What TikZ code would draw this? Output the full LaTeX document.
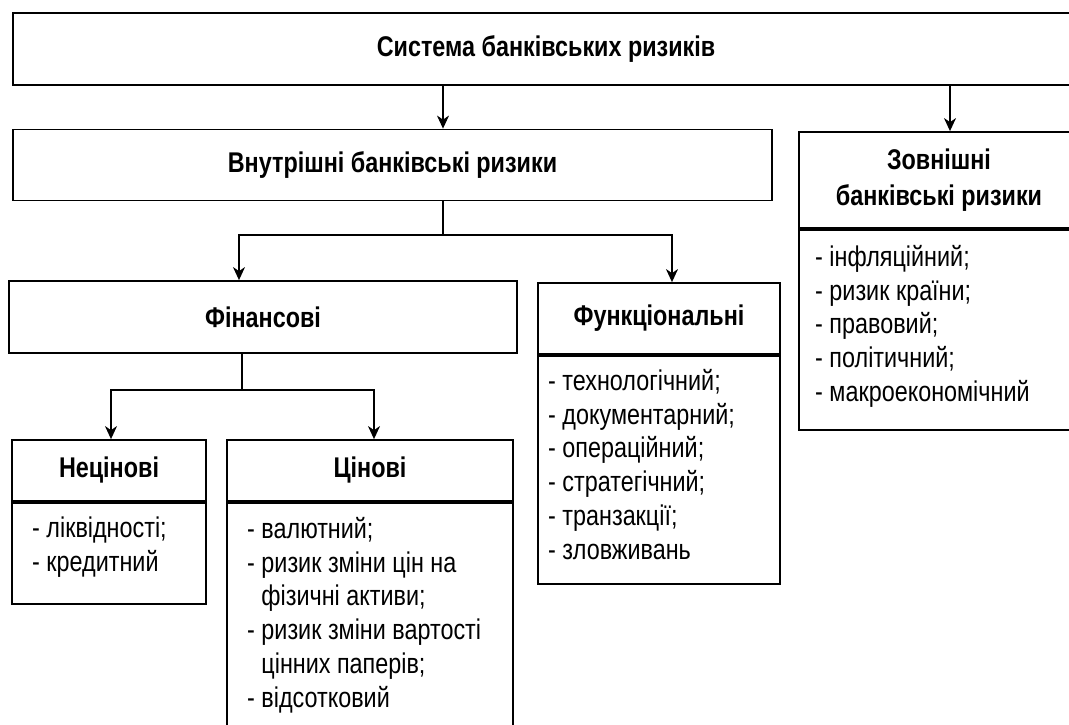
\documentclass[tikz,border=0pt]{standalone}
\usepackage{fontspec}
\setmainfont{Liberation Sans}[FakeStretch=0.82]
\usetikzlibrary{arrows.meta}
\tikzset{
  head/.style={draw, line width=1.8pt, font=\bfseries, align=center, inner sep=0pt},
  listbox/.style={draw, line width=1.8pt, anchor=north west, inner sep=0pt},
  items/.style={anchor=north west, align=left, inner sep=0pt},
  arr/.style={line width=1.2pt, -{Stealth[length=13pt,width=12pt,inset=4pt]}},
  link/.style={line width=1.2pt}
}
\newcommand{\topline}{\rule{0pt}{24pt}}
\begin{document}
\fontsize{28.5pt}{33.8pt}\selectfont
\begin{tikzpicture}[x=1pt, y=-1pt]
      \useasboundingbox (0,0) rectangle (1069,725);
      \clip (0,0) rectangle (1069,725);
      \fill[white] (0,0) rectangle (1069,725);
      \node[head, minimum width=1066pt, minimum height=72pt] (sys) at (546,49) {Система банківських ризиків};
      \node[head, minimum width=759pt, minimum height=71pt] (vnut) at (392.5,165) {Внутрішні банківські ризики};
      \node[head, minimum width=280pt, minimum height=96pt, font=\bfseries\fontsize{28.5pt}{36pt}\selectfont] (zovn) at (939,180) {Зовнішні\\банківські ризики};
      \node[listbox, minimum width=280pt, minimum height=200pt] (zovnl) at (zovn.south west) {};
      \node[items] (zovnt) at (815,242) {\topline- інфляційний;\\- ризик країни;\\- правовий;\\- політичний;\\- макроекономічний};
      \node[head, minimum width=508pt, minimum height=72pt] (fin) at (263,317) {Фінансові};
      \node[head, minimum width=242pt, minimum height=71pt] (func) at (659,318.5) {Функціональні};
      \node[listbox, minimum width=242pt, minimum height=228pt] (funcl) at (func.south west) {};
      \node[items] (funct) at (548,366) {\topline- технологічний;\\- документарний;\\- операційний;\\- стратегічний;\\- транзакції;\\- зловживань};
      \node[head, minimum width=194pt, minimum height=61pt] (neciny) at (109,470.5) {Нецінові};
      \node[listbox, minimum width=194pt, minimum height=101pt] (necinyl) at (neciny.south west) {};
      \node[items] (necinyt) at (32,513) {\topline- ліквідності;\\- кредитний};
      \node[head, minimum width=286pt, minimum height=61pt] (ciny) at (370,470.5) {Цінові};
      \node[listbox, minimum width=286pt, minimum height=260pt] (cinyl) at (ciny.south west) {};
      \node[items] (cinyt) at (247,514) {\topline- валютний;\\- ризик зміни цін на\\\phantom{- }фізичні активи;\\- ризик зміни вартості\\\phantom{- }цінних паперів;\\- відсотковий};
      \coordinate (b1) at (443,110);
      \coordinate (b2) at (950,110);
      \coordinate (j1) at (443,235);
      \coordinate (j2) at (242,390);
      \draw[arr] (sys.south -| b1) -- (vnut.north -| b1);
      \draw[arr] (sys.south -| b2) -- (zovn.north -| b2);
      \draw[link] (vnut.south -| j1) -- (j1);
      \draw[arr] (j1) -| ([xshift=-24pt]fin.north);
      \draw[arr] (j1) -| ([xshift=13pt]func.north);
      \draw[link] (fin.south -| j2) -- (j2);
      \draw[arr] (j2) -| ([xshift=2pt]neciny.north);
      \draw[arr] (j2) -| ([xshift=4pt]ciny.north);
    \end{tikzpicture}
\end{document}
